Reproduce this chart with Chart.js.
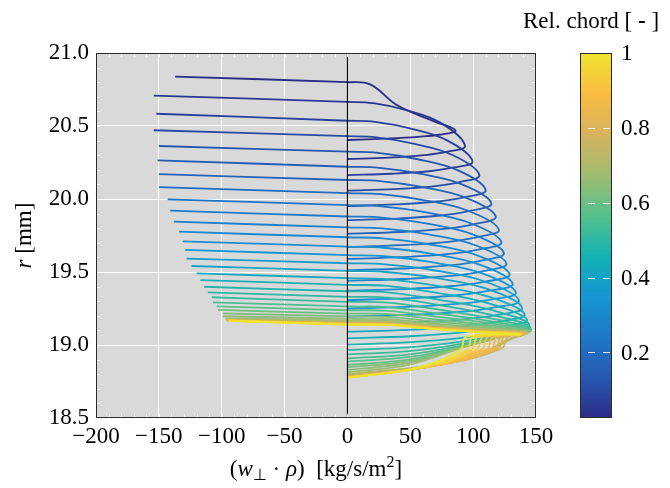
<!DOCTYPE html>
<html>
<head>
<meta charset="utf-8">
<script src="https://cdn.jsdelivr.net/npm/chart.js@4.4.1/dist/chart.umd.min.js"></script>
<style>
  html, body { margin: 0; padding: 0; background: #ffffff; }
  #wrap { width: 670px; height: 488px; position: relative; }
</style>
</head>
<body>
<div id="wrap"><canvas id="c" width="670" height="488"></canvas></div>
<script>
// Relative chord position of every profile (colour value)
const chord = [0.025,0.05,0.075,0.1,0.125,0.15,0.175,0.2,0.225,0.25,0.275,0.3,0.325,0.35,0.375,0.4,0.425,0.45,0.475,0.5,
               0.525,0.55,0.575,0.6,0.625,0.65,0.675,0.7,0.725,0.75,0.775,0.8,0.825,0.85,0.875,0.9,0.925,0.95,0.975,1.0];

// Outer end of each profile (negative mass flux)
const leftX = [-137,-154,-152,-154,-150,-151,-150,-150,-143,-141,-138,-134,-131,-129,-128,-124,-120,-117,-114,-111,
               -108,-107,-104,-103,-99,-99,-97,-97,-96,-96,-96,-96,-95,-95,-95,-95,-94,-94,-94,-94];
const leftR = [20.838,20.708,20.584,20.471,20.363,20.265,20.171,20.082,19.998,19.920,19.845,19.776,19.710,19.651,19.591,19.541,19.491,19.445,19.399,19.361,
               19.327,19.292,19.265,19.240,19.217,19.197,19.183,19.177,19.173,19.171,19.170,19.169,19.168,19.168,19.167,19.167,19.166,19.166,19.166,19.166];

// Radius where the profile changes sign
const zeroR = [20.800,20.665,20.536,20.430,20.324,20.221,20.130,20.040,19.958,19.880,19.806,19.738,19.674,19.616,19.560,19.508,19.458,19.412,19.368,19.330,
               19.296,19.264,19.238,19.215,19.196,19.180,19.168,19.160,19.155,19.152,19.150,19.148,19.146,19.145,19.144,19.143,19.142,19.141,19.140,19.140];

// Upper branch samples
const u1X = [18,20.6,21.9,23.1,24.2,25.2,26,26.5,27,27.4,27.8,28.4,28.9,29.5,30,30.6,31,31.5,31.8,32,
             32.1,32.1,32,31.9,31.8,31.7,31.6,31.5,31.4,31.2,31.1,31,30.9,30.8,30.7,30.6,30.5,30.4,30.3,30.1];
const u1R = [20.785,20.656,20.528,20.422,20.316,20.213,20.123,20.033,19.950,19.873,19.799,19.730,19.666,19.608,19.552,19.500,19.451,19.405,19.361,19.324,
             19.290,19.259,19.234,19.211,19.193,19.177,19.166,19.158,19.153,19.150,19.148,19.146,19.144,19.143,19.142,19.141,19.140,19.139,19.138,19.138];
const u2X = [40,46.8,49.8,52.5,55,57.3,59,60.3,61.3,62.3,63.3,64.5,65.8,67,68.3,69.5,70.5,71.5,72.3,72.8,
             73,73,72.8,72.5,72.3,72,71.8,71.5,71.3,71,70.8,70.5,70.3,70,69.8,69.5,69.3,69,68.8,68.5];
const u2R = [20.640,20.608,20.483,20.379,20.274,20.173,20.083,19.993,19.910,19.833,19.759,19.690,19.626,19.567,19.512,19.460,19.406,19.357,19.311,19.274,
             19.242,19.214,19.192,19.174,19.158,19.145,19.135,19.127,19.123,19.120,19.119,19.117,19.116,19.115,19.114,19.113,19.112,19.111,19.110,19.109];
const u3X = [68,74.8,79.6,84,88,91.6,94.4,96.4,98,99.6,101.2,103.2,105.2,107.2,109.2,111.2,112.8,114.4,115.6,116.4,
             116.8,116.8,116.4,116,115.6,115.2,114.8,114.4,114,113.6,113.2,112.8,112.4,112,111.6,111.2,110.8,110.4,110,109.6];
const u3R = [20.535,20.518,20.400,20.300,20.196,20.098,20.008,19.918,19.834,19.758,19.685,19.614,19.550,19.491,19.435,19.384,19.329,19.280,19.237,19.203,
             19.177,19.158,19.144,19.132,19.123,19.114,19.107,19.101,19.098,19.096,19.095,19.094,19.092,19.091,19.090,19.089,19.088,19.087,19.086,19.086];

// Peak mass flux of each profile
const tipX = [86,93.5,99.5,105,110,114.5,118,120.5,122.5,124.5,126.5,129,131.5,134,136.5,139,141,143,144.5,145.5,
              146,146,145.5,145,144.5,144,143.5,143,142.5,142,141.5,141,140.5,140,139.5,139,138.5,138,137.5,137];
const tipR = [20.470,20.365,20.258,20.164,20.062,19.970,19.880,19.790,19.705,19.630,19.558,19.485,19.420,19.360,19.305,19.255,19.210,19.172,19.142,19.122,
              19.110,19.104,19.100,19.097,19.094,19.091,19.088,19.086,19.084,19.082,19.081,19.080,19.079,19.078,19.077,19.076,19.075,19.074,19.073,19.072];

// Lower (returning) branch samples
const b1X = [73,79.5,84.6,89.3,93.5,97.3,100.3,102.4,104.1,105.8,107.5,109.7,111.8,113.9,116,118.2,119.9,121.6,122.8,123.7,
             124.1,124.1,123.7,123.3,122.8,122.4,122,130,129,128,127.7,124.8,122.4,119.2,115.8,111.8,107.8,103.8,99.9,94.6];
const b1R = [20.440,20.324,20.216,20.116,20.012,19.918,19.827,19.737,19.653,19.577,19.505,19.434,19.370,19.311,19.256,19.204,19.160,19.124,19.094,19.075,
             19.065,19.059,19.057,19.057,19.057,19.057,19.058,19.040,19.040,19.040,19.056,19.056,19.055,19.055,19.055,19.055,19.055,19.055,19.056,19.057];
const b2X = [56,60.8,64.7,68.3,71.5,74.4,76.7,78.3,79.6,80.9,82.2,83.9,85.5,87.1,88.7,90.4,91.7,93,93.9,94.6,
             94.9,94.9,94.6,94.3,93.9,93.6,93.3,112,111,110,122.7,119.8,117.4,114.2,110.8,106.8,102.8,98.8,94.9,89.6];
const b2R = [20.426,20.300,20.190,20.087,19.983,19.887,19.795,19.705,19.622,19.545,19.473,19.404,19.339,19.281,19.226,19.174,19.127,19.088,19.052,19.028,
             19.013,19.003,18.997,18.992,18.990,18.989,18.989,18.960,18.958,18.956,18.976,18.974,18.972,18.970,18.969,18.968,18.967,18.967,18.966,18.966];
const b3X = [30,32.7,34.8,36.8,38.5,40.1,41.3,42.2,42.9,43.6,44.3,45.2,46,46.9,47.8,48.7,49.4,50,50.6,50.9,
             51.1,51.1,50.9,50.8,50.6,50.4,50.2,72,71,70,75,73,71,69,67,64,62,59,56,53];
const b3R = [20.414,20.283,20.173,20.068,19.963,19.866,19.774,19.684,19.602,19.524,19.452,19.383,19.319,19.261,19.206,19.153,19.103,19.060,19.019,18.986,
             18.960,18.938,18.920,18.903,18.891,18.879,18.868,18.868,18.864,18.861,18.867,18.864,18.861,18.858,18.855,18.852,18.849,18.846,18.843,18.840];

// Radius where the profile meets the wall (zero flux)
const wallR = [20.404,20.274,20.164,20.057,19.952,19.855,19.762,19.672,19.590,19.512,19.440,19.372,19.308,19.250,19.195,19.142,19.091,19.046,19.002,18.966,
               18.936,18.909,18.886,18.863,18.847,18.829,18.813,18.801,18.792,18.786,18.783,18.781,18.779,18.778,18.777,18.777,18.776,18.776,18.776,18.776];

// Axis ticks
const xTicks = [-200,-150,-100,-50,0,50,100,150];
const yTicks = [18.5,19.0,19.5,20.0,20.5,21.0];
const cbTicks = [0.2,0.4,0.6,0.8,1];
const cbMin = 0.025, cbMax = 1;

// Parula-type colour map (low to high)
const cmap = [[44,44,135],[38,88,176],[30,120,200],[22,150,210],[20,178,180],
              [85,192,140],[160,188,112],[215,178,95],[250,188,65],[238,228,48]];

function mapColor(v) {
  let t = (v - cbMin) / (cbMax - cbMin);
  t = Math.max(0, Math.min(1, t));
  const n = cmap.length - 1;
  const f = t * n;
  const i = Math.min(Math.floor(f), n - 1);
  const u = f - i;
  const a = cmap[i], b = cmap[i + 1];
  const c = [0,1,2].map(j => Math.round(a[j] + (b[j] - a[j]) * u));
  return `rgb(${c[0]},${c[1]},${c[2]})`;
}

const SERIF = '"Liberation Serif", "Times New Roman", serif';
const FS = 23;
const fmtX = v => (v < 0 ? '\u2212' + Math.abs(v) : String(v));

const datasets = chord.map((c, i) => ({
  data: [
    {x: leftX[i], y: leftR[i]},
    {x: 0, y: zeroR[i]},
    {x: u1X[i], y: u1R[i]},
    {x: u2X[i], y: u2R[i]},
    {x: u3X[i], y: u3R[i]},
    {x: tipX[i], y: tipR[i]},
    {x: b1X[i], y: b1R[i]},
    {x: b2X[i], y: b2R[i]},
    {x: b3X[i], y: b3R[i]},
    {x: 0, y: wallR[i]}
  ],
  showLine: true,
  borderColor: mapColor(c),
  borderWidth: 1.8,
  pointRadius: 0,
  tension: 0.4,
  fill: false,
  order: chord.length - i
}));

// zero flux reference line
datasets.push({
  data: [{x: 0, y: 18.5}, {x: 0, y: 21.0}],
  showLine: true, borderColor: '#000000', borderWidth: 1.1,
  pointRadius: 0, tension: 0, fill: false, order: -1
});

function drawRich(ctx, parts, x, y, align) {
  let w = 0;
  parts.forEach(p => { ctx.font = p.font; p.w = ctx.measureText(p.t).width; w += p.w; });
  let cx = align === 'center' ? x - w / 2 : x;
  ctx.textBaseline = 'alphabetic';
  ctx.textAlign = 'left';
  parts.forEach(p => { ctx.font = p.font; ctx.fillText(p.t, cx, y + (p.dy || 0)); cx += p.w; });
}

const deco = {
  id: 'deco',
  beforeDraw(chart) {
    const {ctx, chartArea: a} = chart;
    ctx.save();
    ctx.fillStyle = '#d9d9d9';
    ctx.fillRect(a.left, a.top, a.right - a.left, a.bottom - a.top);
    ctx.restore();
  },
  afterDraw(chart) {
    const {ctx, chartArea: a, scales} = chart;
    const sx = scales.x, sy = scales.y;
    ctx.save();
    // minor ticks
    ctx.strokeStyle = '#ffffff';
    ctx.lineWidth = 1;
    ctx.beginPath();
    for (let v = -200; v <= 150; v += 10) {
      const px = Math.round(sx.getPixelForValue(v)) + 0.5;
      ctx.moveTo(px, a.bottom); ctx.lineTo(px, a.bottom - 4);
      ctx.moveTo(px, a.top); ctx.lineTo(px, a.top + 4);
    }
    for (let k = 0; k <= 25; k++) {
      const v = 18.5 + k * 0.1;
      const py = Math.round(sy.getPixelForValue(v)) + 0.5;
      ctx.moveTo(a.left, py); ctx.lineTo(a.left + 4, py);
      ctx.moveTo(a.right, py); ctx.lineTo(a.right - 4, py);
    }
    ctx.stroke();
    // frame
    ctx.strokeStyle = '#2b2b2b';
    ctx.lineWidth = 1;
    ctx.strokeRect(a.left + 0.5, a.top + 0.5, a.right - a.left - 1, a.bottom - a.top - 1);

    // axis titles
    ctx.fillStyle = '#000';
    drawRich(ctx, [
      {t: '(', font: `${FS}px ${SERIF}`},
      {t: 'w', font: `italic ${FS}px ${SERIF}`},
      {t: '\u22a5', font: `16px ${SERIF}`, dy: 4},
      {t: ' \u00b7 ', font: `${FS}px ${SERIF}`},
      {t: '\u03c1', font: `italic ${FS}px ${SERIF}`},
      {t: ')  [kg/s/m', font: `${FS}px ${SERIF}`},
      {t: '2', font: `16px ${SERIF}`, dy: -9},
      {t: ']', font: `${FS}px ${SERIF}`}
    ], (a.left + a.right) / 2, 476, 'center');

    ctx.save();
    ctx.translate(31, (a.top + a.bottom) / 2);
    ctx.rotate(-Math.PI / 2);
    drawRich(ctx, [
      {t: 'r', font: `italic ${FS}px ${SERIF}`},
      {t: ' [mm]', font: `${FS}px ${SERIF}`}
    ], 0, 0, 'center');
    ctx.restore();

    // colour bar
    const cbL = 580, cbR = 612, cbT = a.top, cbB = a.bottom;
    const g = ctx.createLinearGradient(0, cbB, 0, cbT);
    cmap.forEach((c, i) => g.addColorStop(i / (cmap.length - 1), `rgb(${c[0]},${c[1]},${c[2]})`));
    ctx.fillStyle = g;
    ctx.fillRect(cbL, cbT, cbR - cbL, cbB - cbT);
    const cbY = v => cbB - (v - cbMin) / (cbMax - cbMin) * (cbB - cbT);
    ctx.strokeStyle = 'rgba(255,255,255,0.85)';
    ctx.lineWidth = 1;
    ctx.beginPath();
    cbTicks.forEach(v => {
      if (v >= cbMax) return;
      const py = Math.round(cbY(v)) + 0.5;
      ctx.moveTo(588, py); ctx.lineTo(595, py);
      ctx.moveTo(603, py); ctx.lineTo(610, py);
    });
    ctx.stroke();
    ctx.strokeStyle = '#2b2b2b';
    ctx.strokeRect(cbL + 0.5, cbT + 0.5, cbR - cbL - 1, cbB - cbT - 1);
    ctx.fillStyle = '#000';
    ctx.font = `${FS}px ${SERIF}`;
    ctx.textAlign = 'left';
    ctx.textBaseline = 'middle';
    cbTicks.forEach(v => ctx.fillText(String(v), 621, cbY(v) + 1));
    drawRich(ctx, [
      {t: 'Rel. chord [ ', font: `${FS}px ${SERIF}`},
      {t: '-', font: `bold ${FS}px ${SERIF}`},
      {t: ' ]', font: `${FS}px ${SERIF}`}
    ], 523, 28, 'left');
    ctx.restore();
  }
};

new Chart(document.getElementById('c').getContext('2d'), {
  type: 'scatter',
  data: { datasets },
  options: {
    responsive: false,
    animation: false,
    devicePixelRatio: 1,
    layout: { padding: { left: 0, top: 53, right: 134, bottom: 0 } },
    plugins: { legend: { display: false }, tooltip: { enabled: false } },
    scales: {
      x: {
        type: 'linear', min: -200, max: 150,
        afterFit: s => { s.height = 70; },
        afterBuildTicks: s => { s.ticks = xTicks.map(v => ({value: v})); },
        ticks: { font: { family: SERIF, size: FS }, color: '#000', padding: 5,
                 maxRotation: 0, autoSkip: false, callback: v => fmtX(v) },
        grid: { color: '#ffffff', lineWidth: 1, drawTicks: false },
        border: { display: false }
      },
      y: {
        type: 'linear', min: 18.5, max: 21.0,
        afterFit: s => { s.width = 96; },
        afterBuildTicks: s => { s.ticks = yTicks.map(v => ({value: v})); },
        ticks: { font: { family: SERIF, size: FS }, color: '#000', padding: 7,
                 autoSkip: false, callback: v => Number(v).toFixed(1) },
        grid: { color: '#ffffff', lineWidth: 1, drawTicks: false },
        border: { display: false }
      }
    }
  },
  plugins: [deco]
});
</script>
</body>
</html>
